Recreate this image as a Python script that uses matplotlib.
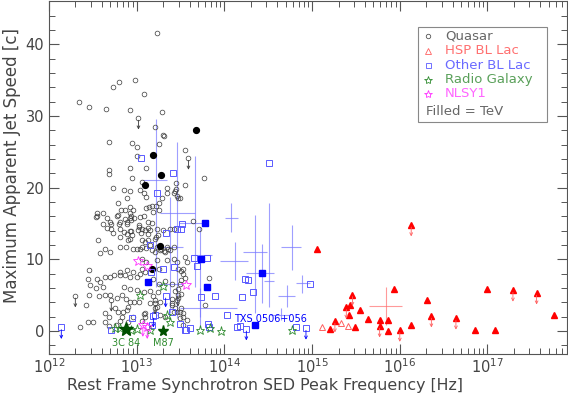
import numpy as np
import matplotlib
matplotlib.use('Agg')
import matplotlib.pyplot as plt
from matplotlib.patches import Rectangle

# ---- data: (log10 peak frequency [Hz], max apparent speed [c]) ----
qso_pts = [
    (13.23, 41.5), (12.73, 34.1), (12.80, 34.8), (12.98, 35.0), (13.08, 33.1), (12.34, 31.9),
    (12.46, 31.3), (12.65, 31.0), (12.92, 30.8), (13.29, 30.5), (13.21, 28.4), (13.30, 27.4),
    (13.31, 27.2), (12.68, 26.3), (12.95, 26.2), (13.00, 25.6), (13.25, 26.1), (13.55, 25.2),
    (13.00, 24.4), (12.92, 22.8), (13.11, 22.7), (12.68, 22.4), (12.68, 21.9), (12.95, 21.4),
    (13.45, 20.7), (13.06, 20.8), (12.73, 20.0), (12.85, 19.7), (12.92, 19.6), (13.04, 19.7),
    (13.08, 19.2), (13.11, 18.7), (13.34, 19.9), (13.45, 19.8), (13.43, 19.2), (13.47, 18.6),
    (13.29, 18.6), (12.89, 18.6), (12.79, 17.8), (12.82, 16.9), (12.87, 16.9), (12.92, 17.3),
    (12.96, 16.9), (13.14, 17.3), (13.17, 17.4), (13.22, 17.5), (13.25, 17.8), (13.11, 17.1),
    (12.55, 16.5), (12.62, 16.5), (12.55, 16.0), (12.66, 15.8), (12.78, 16.1), (12.93, 16.0),
    (12.97, 15.8), (13.08, 16.0), (13.19, 16.6), (13.25, 16.9), (13.77, 21.4), (13.49, 18.5),
    (13.55, 20.3), (13.46, 18.9), (13.34, 19.2), (13.44, 19.6),
    (12.92, 15.7), (12.89, 15.2), (12.81, 15.2), (12.71, 14.9), (12.62, 14.9), (12.66, 14.4),
    (12.71, 14.2), (12.81, 14.2), (12.85, 13.8), (12.92, 13.9), (13.03, 14.5), (13.01, 14.1),
    (13.05, 13.7), (13.13, 14.4), (13.23, 14.3), (12.81, 13.1), (12.89, 13.5), (12.95, 13.4),
    (12.90, 12.7), (12.92, 12.9), (13.24, 13.4), (13.21, 12.9), (12.56, 12.7), (12.64, 11.5),
    (12.58, 10.9), (12.70, 11.0), (12.81, 11.7), (12.88, 11.7), (12.96, 11.5), (13.00, 11.5),
    (13.04, 11.5), (13.11, 11.6), (13.15, 12.0), (13.27, 11.3), (13.31, 11.1), (13.36, 11.5),
    (13.64, 15.3), (13.71, 14.3), (13.30, 14.1), (13.38, 14.2), (13.42, 14.3), (13.09, 14.1),
    (13.13, 13.6), (13.06, 12.7), (13.09, 12.4), (13.13, 12.7), (13.06, 11.7), (13.17, 11.3),
    (13.23, 11.7), (13.21, 11.0), (13.28, 11.5), (13.34, 11.7), (13.32, 11.0), (13.38, 11.3),
    (13.42, 11.7), (12.70, 15.2), (12.73, 13.7), (12.79, 16.2), (12.80, 15.0), (12.87, 15.6),
    (12.92, 16.4), (12.94, 15.5), (12.89, 14.9), (12.93, 14.0), (13.04, 15.9), (13.03, 14.8),
    (13.06, 14.3), (13.13, 15.2), (13.18, 15.1), (13.15, 14.1), (13.22, 13.1), (12.54, 15.9),
    (12.46, 8.5), (12.45, 7.3), (12.47, 6.4), (12.55, 7.3), (12.58, 6.9), (12.64, 7.6),
    (12.70, 7.6), (12.74, 7.8), (12.81, 7.8), (12.87, 7.8), (12.92, 7.6), (13.00, 7.5),
    (12.54, 6.0), (12.62, 6.2), (12.46, 5.1), (12.42, 3.7), (12.35, 0.5), (12.45, 1.2),
    (12.50, 1.2), (12.64, 5.1), (12.70, 5.0), (12.77, 4.6), (12.83, 5.0), (12.88, 4.5),
    (12.92, 4.1), (12.97, 4.0), (13.03, 4.0), (12.75, 3.2), (12.79, 2.6), (12.84, 2.7),
    (12.64, 1.3), (12.68, 0.7), (12.76, 0.8), (12.81, 1.4), (12.90, 1.3), (13.06, 1.4),
    (13.32, 2.0), (13.55, 10.3), (13.57, 9.7), (13.53, 8.7), (13.51, 8.4), (13.53, 7.9),
    (13.55, 7.4), (13.51, 7.1), (13.49, 6.6), (13.47, 5.9), (13.44, 5.6), (13.51, 5.2),
    (13.47, 4.6), (13.40, 4.5), (13.46, 4.3), (13.40, 3.6), (13.51, 3.2), (13.46, 2.7),
    (13.53, 2.5), (13.82, 7.4), (13.78, 3.6), (12.57, 4.9), (12.64, 2.5), (12.68, 2.0),
    (12.83, 2.0), (12.90, 3.4), (12.89, 2.9), (12.96, 2.0), (13.08, 2.4), (13.10, 1.9),
    (13.19, 4.9), (13.21, 4.3), (13.23, 3.4), (13.27, 4.1), (13.40, 3.9), (13.44, 3.2),
    (13.49, 2.7), (13.53, 2.0), (13.57, 1.5),
    (12.81, 8.3), (12.89, 8.5), (12.96, 8.2), (13.04, 7.9), (13.09, 8.3), (13.19, 7.3),
    (13.25, 6.6), (13.32, 7.0), (13.40, 6.6), (12.85, 6.2), (12.92, 5.8), (13.00, 5.7),
    (13.08, 5.5), (13.15, 5.6), (13.24, 5.4), (13.15, 3.9), (13.21, 3.2), (13.09, 2.5),
    (13.27, 2.2), (13.42, 2.7), (13.49, 1.8), (13.53, 0.8),
    (13.06, 10.1), (13.11, 9.7), (13.06, 8.7), (13.23, 9.9), (13.25, 8.7), (13.34, 9.9),
    (13.42, 10.1), (13.46, 9.7), (13.47, 8.7),
]
qso_lim_pts = [(13.02, 29.7), (13.59, 24.1), (12.30, 4.9), (12.71, 4.3), (13.47, 5.0), (13.21, 3.9)]
qso_tev_pts = [(13.68, 28.0), (13.19, 24.6), (13.28, 21.8), (13.09, 20.4), (13.26, 11.8), (13.18, 8.7)]

hsp_pts = [(15.11, 0.6), (15.33, 1.1), (15.41, 0.7)]
hsp_tev_pts = [
    (15.06, 11.5), (15.20, 0.3), (15.43, 3.7), (15.42, 2.3), (15.49, 0.6), (15.55, 2.9),
    (15.64, 1.7), (15.77, 1.6), (15.86, 1.6), (15.87, 0.0), (15.93, 5.9), (16.13, 0.9),
    (16.31, 4.3), (16.86, 0.1), (17.08, 0.2), (16.99, 5.9), (17.76, 2.2),
]
hsp_tev_lim_pts = [
    (16.13, 14.8), (15.26, 1.4), (15.39, 3.3), (15.46, 5.1), (15.77, 0.7), (16.00, 0.1),
    (16.36, 2.1), (16.64, 1.8), (17.29, 5.7), (17.56, 5.3),
]
# HSP cross: centre, log-x range, y range
hsp_cross = (15.84, 3.5, 15.65, 16.03, 0.8, 6.1)

bll_pts = [
    (13.05, 24.2), (13.41, 22.0), (13.23, 19.3), (13.33, 13.7), (13.46, 14.3), (13.51, 14.3),
    (13.52, 15.0), (13.15, 12.0), (13.16, 8.3), (13.30, 8.7), (13.42, 9.0), (13.65, 10.2),
    (13.69, 9.1), (13.80, 10.2), (13.73, 4.8), (13.89, 4.9), (14.03, 2.2), (14.20, 4.8),
    (14.33, 5.5), (14.23, 7.3), (14.27, 7.1), (14.51, 23.5), (14.14, 0.6), (14.18, 0.7),
    (14.82, 0.5), (14.98, 6.5), (13.81, 1.0), (13.82, 0.5), (13.61, 0.4), (13.56, 0.1),
    (13.49, 1.0), (12.71, 0.1), (12.95, 1.8), (13.40, 2.7), (13.55, 0.2), (13.18, 0.9),
    (13.21, 2.2),
]
bll_lim_pts = [(12.14, 0.5), (13.19, 2.1), (13.33, 4.9), (14.25, 0.3), (14.93, 0.4)]
bll_tev_pts = [(13.78, 15.1), (13.73, 10.0), (13.80, 6.2), (13.13, 6.9), (14.43, 8.1), (14.35, 0.9)]
# Other BL Lac crosses: x, y, log-x low, log-x high, y low, y high
bll_crosses = [
    (13.22, 21.1, 13.07, 13.34, 6.1, 29.6),
    (13.46, 16.4, 13.27, 13.66, 1.8, 26.4),
    (13.66, 15.1, 13.48, 13.76, 6.2, 24.4),
    (13.38, 11.7, 13.28, 13.53, 2.5, 18.7),
    (13.72, 10.6, 13.64, 13.86, 2.0, 14.5),
    (14.08, 15.7, 14.01, 14.16, 13.8, 17.8),
    (14.12, 9.8, 13.95, 14.27, 7.1, 12.4),
    (14.35, 11.0, 14.21, 14.48, 2.5, 16.2),
    (14.43, 8.1, 14.25, 14.56, 3.9, 12.2),
    (14.51, 7.0, 14.45, 14.57, 3.4, 17.8),
    (14.77, 11.7, 14.65, 14.87, 8.5, 14.8),
    (14.71, 4.9, 14.61, 14.80, 3.4, 6.4),
    (14.88, 6.7, 14.82, 14.98, 5.3, 7.8),
    (13.72, 3.2, 13.49, 14.14, 0.4, 6.0),
    (14.65, 2.2, 14.52, 14.75, 1.5, 3.2),
    (13.38, 6.5, 13.23, 13.53, 6.5, 6.5),
]

rg_pts = [
    (12.75, 0.4), (12.81, 0.4), (12.94, 0.2), (13.00, 0.3), (13.04, 5.0), (13.15, 0.1),
    (13.30, 6.3), (13.35, 2.2), (13.38, 1.3), (13.72, 0.1), (13.84, 0.4), (13.96, 0.0),
    (14.77, 0.1),
]
rg_3c84 = (12.88, 0.3)
rg_m87 = (13.30, 0.0)

nls_pts = [(13.02, 9.8), (13.12, 9.1), (13.56, 6.4)]
nls_lim_pts = [(13.07, 0.8), (13.12, 0.5)]

# ---- colours ----
c_qso = '#3a3a3a'
c_hsp = '#ff0000'
c_hsp_open = '#ff6060'
c_bll = '#0000ff'
c_bll_open = '#5a5aff'
c_cross = '#7777ff'
c_rg = '#2e8b2e'
c_rg_tev = '#005000'
c_nls = '#ff30ff'
c_text = '#444444'


def split(pts):
    a = np.array(pts, dtype=float)
    return 10 ** a[:, 0], a[:, 1]


def limit_arrows(ax, pts, color):
    for lx, y in pts:
        ax.annotate('', xy=(10 ** lx, y - 1.6), xytext=(10 ** lx, y - 0.3),
                    arrowprops=dict(arrowstyle='->', color=color, lw=0.6,
                                    shrinkA=0, shrinkB=0, mutation_scale=5))


def crosses(ax, rows, color):
    for lx, y, xlo, xhi, ylo, yhi in rows:
        x = 10 ** lx
        ax.errorbar([x], [y],
                    xerr=[[x - 10 ** xlo], [10 ** xhi - x]],
                    yerr=[[y - ylo], [yhi - y]],
                    fmt='none', ecolor=color, elinewidth=0.8, capsize=0, alpha=0.7)


fig = plt.figure(figsize=(5.68, 3.96), dpi=100)
ax = fig.add_axes([0.0863, 0.106, 0.9114, 0.891])

crosses(ax, bll_crosses, c_cross)
crosses(ax, [hsp_cross], '#ff7070')

x, y = split(qso_pts)
ax.plot(x, y, 'o', ms=3.4, mfc='none', mec=c_qso, mew=0.5, ls='none')
x, y = split(qso_lim_pts)
ax.plot(x, y, 'o', ms=3.4, mfc='none', mec=c_qso, mew=0.5, ls='none')
limit_arrows(ax, qso_lim_pts, c_qso)
x, y = split(qso_tev_pts)
ax.plot(x, y, 'o', ms=4.2, mfc='black', mec='black', ls='none')

x, y = split(bll_pts + bll_lim_pts)
ax.plot(x, y, 's', ms=4.0, mfc='none', mec=c_bll_open, mew=0.7, ls='none')
limit_arrows(ax, bll_lim_pts, c_bll)
x, y = split(bll_tev_pts)
ax.plot(x, y, 's', ms=4.2, mfc=c_bll, mec=c_bll, ls='none')

x, y = split(hsp_pts)
ax.plot(x, y, '^', ms=5.0, mfc='none', mec=c_hsp_open, mew=0.7, ls='none')
x, y = split(hsp_tev_pts + hsp_tev_lim_pts)
ax.plot(x, y, '^', ms=5.0, mfc=c_hsp, mec=c_hsp, ls='none')
limit_arrows(ax, hsp_tev_lim_pts, c_hsp_open)

x, y = split(rg_pts)
ax.plot(x, y, '*', ms=6.5, mfc='none', mec=c_rg, mew=0.6, ls='none')
ax.plot([10 ** rg_3c84[0]], [rg_3c84[1]], '*', ms=10, mfc=c_rg_tev, mec=c_rg_tev, ls='none')
ax.plot([10 ** rg_m87[0]], [rg_m87[1]], '*', ms=8, mfc=c_rg_tev, mec=c_rg_tev, ls='none')

x, y = split(nls_pts + nls_lim_pts)
ax.plot(x, y, '*', ms=7, mfc='none', mec=c_nls, mew=0.6, ls='none')
limit_arrows(ax, nls_lim_pts, c_nls)

# source labels
ax.text(10 ** rg_3c84[0], -1.6, '3C 84', color=c_rg, fontsize=7, ha='center', va='center')
ax.text(10 ** rg_m87[0], -1.6, 'M87', color=c_rg, fontsize=7, ha='center', va='center')
ax.text(10 ** 14.11, 1.7, 'TXS 0506+056', color=c_bll, fontsize=7, ha='left', va='center')

ax.set_xscale('log')
ax.set_xlim(1e12, 8e17)
ax.set_ylim(-3.2, 46)
ax.set_yticks([0, 10, 20, 30, 40])
ax.set_yticks(np.arange(-2, 46, 2), minor=True)
ax.tick_params(which='both', direction='in', top=True, right=True, colors='#555555',
               labelcolor=c_text, labelsize=10.5)
ax.tick_params(which='major', length=7, width=0.8)
ax.tick_params(which='minor', length=4, width=0.7)
ax.tick_params(axis='x', pad=2.5)
for s in ax.spines.values():
    s.set_color('#555555')
    s.set_linewidth(0.8)
ax.set_xlabel('Rest Frame Synchrotron SED Peak Frequency [Hz]', color=c_text, fontsize=11.4)
ax.set_ylabel('Maximum Apparent Jet Speed [c]', color=c_text, fontsize=12)
# labels sit left of / above the axes centre in the original
ax.xaxis.set_label_coords(0.417, -0.068)
ax.yaxis.set_label_coords(-0.055, 0.533)

# legend box
tr = ax.transAxes
ax.add_patch(Rectangle((0.713, 0.658), 0.248, 0.269, transform=tr, fill=False,
                       ec='#888888', lw=0.8))
leg_rows = [
    ('Quasar', 'o', '#555555', '#666666', 3.2),
    ('HSP BL Lac', '^', '#ff6060', '#ff7070', 4.5),
    ('Other BL Lac', 's', '#5a5aff', '#6a6aff', 3.6),
    ('Radio Galaxy', '*', c_rg, '#5aa05a', 6.0),
    ('NLSY1', '*', c_nls, '#ff66ff', 6.0),
]
leg_y = [0.902, 0.860, 0.819, 0.777, 0.737]
for (lab, mk, mc, tc, ms), yy in zip(leg_rows, leg_y):
    ax.plot([0.732], [yy], mk, ms=ms, mfc='none', mec=mc, mew=0.6, transform=tr)
    ax.text(0.765, yy, lab, color=tc, fontsize=9.5, va='center', ha='left', transform=tr)
ax.text(0.728, 0.688, 'Filled = TeV', color='#666666', fontsize=9.5, va='center',
        ha='left', transform=tr)

fig.savefig('out.png', dpi=100)
